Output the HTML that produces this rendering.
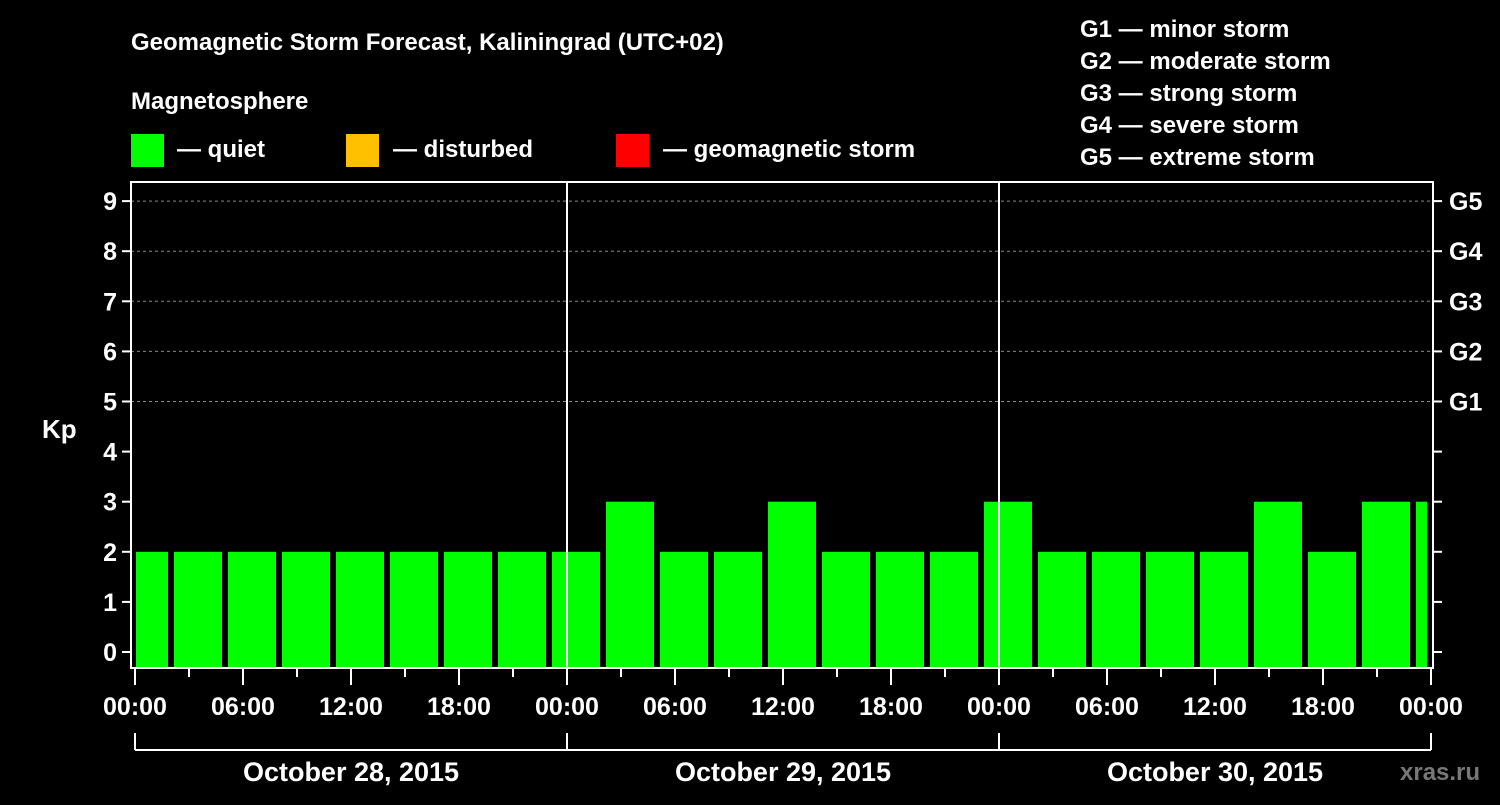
<!DOCTYPE html>
<html><head><meta charset="utf-8"><style>
body{margin:0;background:#000;}
svg text{font-family:"Liberation Sans",Arial,sans-serif;font-weight:bold;fill:#fff;}
</style></head><body>
<svg id="c" width="1500" height="800" viewBox="0 0 1500 800">
<rect width="1500" height="800" fill="#000"/>
<text x="131" y="50" font-size="24">Geomagnetic Storm Forecast, Kaliningrad (UTC+02)</text>
<text x="131" y="109" font-size="24">Magnetosphere</text>
<g><rect x="131" y="134" width="33" height="33" fill="#00ff00"/><text x="177" y="157" font-size="24">— quiet</text></g>
<g><rect x="346" y="134" width="33" height="33" fill="#ffc000"/><text x="393" y="157" font-size="24">— disturbed</text></g>
<g><rect x="616" y="134" width="33" height="33" fill="#ff0000"/><text x="663" y="157" font-size="24">— geomagnetic storm</text></g>
<g font-size="24">
<text x="1080" y="37">G1 — minor storm</text>
<text x="1080" y="69">G2 — moderate storm</text>
<text x="1080" y="101">G3 — strong storm</text>
<text x="1080" y="133">G4 — severe storm</text>
<text x="1080" y="165">G5 — extreme storm</text>
</g>
<text x="42" y="438" font-size="26">Kp</text>
<text x="1400" y="780" font-size="24" fill="#777" style="fill:#777">xras.ru</text>
<g id="grid"></g><g id="bars"></g><g id="axes"></g>
</svg>
<script>
const kpValues=[2,2,2,2,2,2,2,2,2,3,2,2,3,2,2,2,3,2,2,2,2,3,2,3,3];
const binStartHour=-1, binHours=3;
const yTicks=[0,1,2,3,4,5,6,7,8,9];
const gLabels=["G1","G2","G3","G4","G5"];
const gLevels=[5,6,7,8,9];
const xTickLabels=["00:00","06:00","12:00","18:00","00:00","06:00","12:00","18:00","00:00","06:00","12:00","18:00","00:00"];
const dayLabels=["October 28, 2015","October 29, 2015","October 30, 2015"];
const totalHours=72;
const NS="http://www.w3.org/2000/svg";
const X=h=>135+h*18, Y=v=>652-v*50.1;
const L=131,R=1433,T=182,B=668;
function mk(p,t,a){const e=document.createElementNS(NS,t);for(const k in a)e.setAttribute(k,a[k]);p.appendChild(e);return e;}
const grid=document.getElementById('grid'),bars=document.getElementById('bars'),axes=document.getElementById('axes');
yTicks.forEach(v=>{if(v>=5){const l=mk(grid,'line',{x1:L,x2:R,y1:Y(v),y2:Y(v),stroke:'#888','stroke-dasharray':'3,3','stroke-width':1});

}});
kpValues.forEach((v,i)=>{let h0=Math.max(0,binStartHour+i*binHours),h1=Math.min(totalHours,binStartHour+(i+1)*binHours);
const x0=X(h0)+(h0===0?1:3),x1=X(h1)-(h1===totalHours?4:3);
const r=mk(bars,'rect',{x:x0,y:Y(v),width:x1-x0,height:B-Y(v),fill:v>=5?'#ff0000':(v>=4?'#ffc000':'#00ff00')});

});
[24,48].forEach(h=>{const l=mk(axes,'line',{x1:X(h),x2:X(h),y1:T,y2:B,stroke:'#fff','stroke-width':2});

});
const fr=mk(axes,'rect',{x:L,y:T,width:R-L,height:B-T,fill:'none',stroke:'#fff','stroke-width':2});


yTicks.forEach(v=>{mk(axes,'line',{x1:L-9,x2:L,y1:Y(v),y2:Y(v),stroke:'#fff','stroke-width':2});
mk(axes,'line',{x1:R,x2:R+9,y1:Y(v),y2:Y(v),stroke:'#fff','stroke-width':2});
const t=mk(axes,'text',{x:L-14,y:Y(v)+9,'text-anchor':'end','font-size':25});t.textContent=v;

});
gLabels.forEach((g,i)=>{const t=mk(axes,'text',{x:R+16,y:Y(gLevels[i])+9,'font-size':25});t.textContent=g;

});
for(let h=0;h<=totalHours;h+=3){const maj=h%6===0;mk(axes,'line',{x1:X(h),x2:X(h),y1:B,y2:B+(maj?17:9),stroke:'#fff','stroke-width':2});}
xTickLabels.forEach((s,i)=>{const t=mk(axes,'text',{x:X(i*6),y:715,'text-anchor':'middle','font-size':25});t.textContent=s;

});
mk(axes,'line',{x1:X(0),x2:X(72),y1:750,y2:750,stroke:'#fff','stroke-width':2});
[0,24,48,72].forEach(h=>mk(axes,'line',{x1:X(h),x2:X(h),y1:733,y2:750,stroke:'#fff','stroke-width':2}));
dayLabels.forEach((s,i)=>{const t=mk(axes,'text',{x:X(i*24+12),y:781,'text-anchor':'middle','font-size':27});t.textContent=s;

});
</script>
</body></html>
